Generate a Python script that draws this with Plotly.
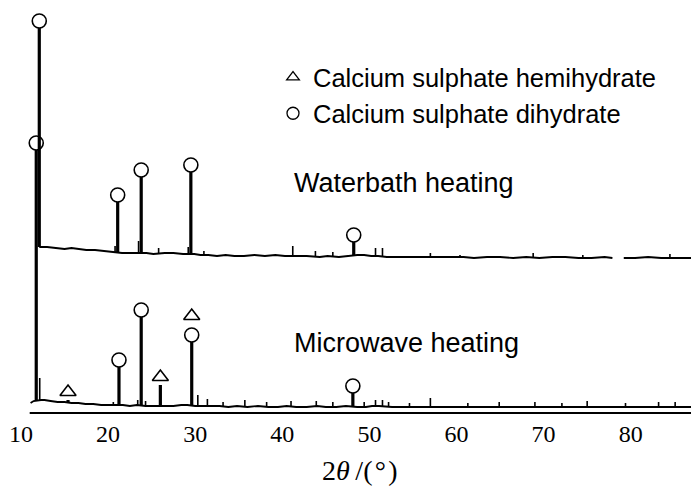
import numpy as np
import plotly.graph_objects as go

# ---------------- data (2theta in degrees, intensity in arbitrary units) ----------------
# Waterbath heating pattern (upper curve, vertically offset)
wb_base_x = [12.1, 13.0, 14.0, 15.0, 15.8, 16.5, 17.5, 18.5, 19.5, 20.3, 20.8, 21.6, 22.5, 23.3,
             24.4, 25.2, 26.5, 27.5, 28.6, 29.9, 30.6, 31.5, 32.5, 33.5, 34.5, 35.6, 36.8, 38.0,
             39.2, 40.3, 41.7, 42.8, 44.3, 45.2, 46.5, 47.4, 48.6, 49.4, 50.2, 51.0, 52.0, 53.0,
             54.5, 56.0, 57.5, 59.0, 60.8, 62.0, 63.5, 65.0, 66.5, 68.0, 69.5, 71.0, 72.5, 74.0,
             75.5, 77.0, 77.9, None, 79.2, 80.5, 82.0, 83.5, 85.3, 86.92]
wb_base_y = [165, 165, 164, 163, 164, 163, 162, 162, 161, 160, 160, 159, 159, 159,
             159, 158, 159, 159, 158, 158, 157, 157, 156, 157, 156, 156, 157, 156,
             157, 156, 156, 156, 155, 156, 155, 156, 157, 157, 156, 156, 155, 155,
             155, 155, 155, 155, 155, 154, 155, 155, 154, 155, 154, 155, 155, 154,
             154, 155, 154, None, 154, 154, 155, 154, 154, 154]
wb_peak_x = [12.1, 21.1, 23.8, 29.5, 48.2]
wb_peak_y = [384, 210, 235, 240, 170]
wb_minor_x = [20.8, 23.5, 25.8, 29.2, 31.0, 41.2, 43.8, 45.8, 50.7, 51.5, 57.0, 60.4, 68.8, 74.5, 84.5]
wb_minor_y = [166, 171, 164, 165, 161, 166, 161, 160, 164, 164, 159, 157, 159, 157, 158]

# Microwave heating pattern (lower curve)
mw_base_x = [11.1, 11.45, 12.3, 12.7, 13.4, 14.2, 15.0, 15.8, 16.6, 17.4, 18.3, 19.2, 20.0,
             20.8, 21.7, 22.5, 23.3, 24.3, 25.2, 26.6, 27.5, 28.4, 29.1, 30.0, 30.8, 31.8,
             32.8, 33.8, 34.8, 36.0, 37.2, 38.4, 39.5, 40.5, 41.6, 42.8, 44.0, 45.0, 46.2,
             47.3, 48.6, 49.6, 50.3, 51.1, 52.6, 53.8, 55.0, 56.2, 57.6, 59.0, 60.5, 62.0,
             63.5, 65.5, 67.0, 68.5, 70.0, 71.5, 73.0, 74.4, 75.8, 77.2, 78.6, 80.0, 81.5,
             82.8, 84.0, 85.6, 86.92]
mw_base_y = [9, 11, 12, 12, 11, 10, 10, 9, 9, 8, 8, 7, 7,
             7, 7, 6, 7, 6, 6, 6, 6, 7, 7, 6, 6, 6,
             6, 5, 6, 5, 6, 5, 5, 6, 5, 5, 6, 5, 5,
             6, 5, 5, 6, 6, 5, 5, 5, 5, 5, 5, 5, 5,
             5, 5, 5, 5, 5, 5, 5, 5, 5, 5, 5, 5, 5,
             5, 5, 5, 5]
mw_peak_x = [11.75, 15.4, 21.25, 23.8, 26.0, 29.6, 48.1]
mw_peak_y = [262, 12, 45, 95, 27, 70, 19]
mw_minor_x = [12.15, 20.6, 23.4, 24.3, 30.3, 31.4, 33.2, 35.7, 38.2, 41.0, 43.9, 45.8, 49.4,
              50.7, 51.5, 52.2, 54.6, 57.0, 61.3, 64.9, 69.0, 72.1, 75.0, 79.4, 83.2, 85.1]
mw_minor_y = [34, 10, 12, 11, 17, 13, 10, 12, 10, 11, 11, 10, 10,
              12, 12, 10, 9, 14, 9, 10, 10, 9, 11, 9, 10, 10]

# phase identification marks
wb_dihydrate = [12.1, 21.1, 23.8, 29.5, 48.2]
mw_dihydrate = [11.75, 21.25, 23.8, 29.6, 48.1]
mw_hemihydrate = [15.4, 26.0, 29.6]

tick_vals = [10, 20, 30, 40, 50, 60, 70, 80]
tick_text = ["10", "20", "30", "40", "50", "60", "70", "80"]


# ---------------- helpers ----------------
def clean(xs, ys):
    px = [a for a in xs if a is not None]
    py = [b for b in ys if b is not None]
    return np.array(px, float), np.array(py, float)


def segments(pos, top, bx, by):
    sx, sy = [], []
    for p, t in zip(pos, top):
        foot = float(np.interp(p, bx, by))
        sx += [p, p, None]
        sy += [foot, t, None]
    return sx, sy


BLACK = "#000000"
fig = go.Figure()

for bx_raw, by_raw, px, py, mx, my, name in [
    (wb_base_x, wb_base_y, wb_peak_x, wb_peak_y, wb_minor_x, wb_minor_y, "Waterbath"),
    (mw_base_x, mw_base_y, mw_peak_x, mw_peak_y, mw_minor_x, mw_minor_y, "Microwave"),
]:
    bx, by = clean(bx_raw, by_raw)
    fig.add_trace(go.Scatter(x=bx_raw, y=by_raw, mode="lines", line=dict(color=BLACK, width=1.8),
                             showlegend=False, hoverinfo="skip", connectgaps=False))
    sx, sy = segments(mx, my, bx, by)
    fig.add_trace(go.Scatter(x=sx, y=sy, mode="lines", line=dict(color=BLACK, width=1.6),
                             showlegend=False, hoverinfo="skip"))
    sx, sy = segments(px, py, bx, by)
    fig.add_trace(go.Scatter(x=sx, y=sy, mode="lines", line=dict(color=BLACK, width=3.2),
                             showlegend=False, hoverinfo="skip"))

wb_top = dict(zip(wb_peak_x, wb_peak_y))
mw_top = dict(zip(mw_peak_x, mw_peak_y))

CIRC_OFF = 7
TRI_OFF = 8
circ_x = wb_dihydrate + mw_dihydrate
circ_y = [wb_top[p] + CIRC_OFF for p in wb_dihydrate] + [mw_top[p] + CIRC_OFF for p in mw_dihydrate]
tri_x = mw_hemihydrate
tri_y = [mw_top[p] + (26 if p in mw_dihydrate else TRI_OFF) for p in mw_hemihydrate]

fig.add_trace(go.Scatter(x=circ_x, y=circ_y, mode="markers", showlegend=False,
                         marker=dict(symbol="circle-open", size=14, color=BLACK, line=dict(width=1.6))))
fig.add_trace(go.Scatter(x=tri_x, y=tri_y, mode="markers", showlegend=False,
                         marker=dict(symbol="triangle-up-open", size=14, color=BLACK, line=dict(width=1.6))))

# legend entries
fig.add_trace(go.Scatter(x=[None], y=[None], mode="markers", name="Calcium sulphate hemihydrate",
                         marker=dict(symbol="triangle-up-open", size=11, color=BLACK, line=dict(width=1.3))))
fig.add_trace(go.Scatter(x=[None], y=[None], mode="markers", name="Calcium sulphate dihydrate",
                         marker=dict(symbol="circle-open", size=12, color=BLACK, line=dict(width=1.3))))

W, H = 691, 488
PLOT_H = 409
AX_PIX = 413
# x-axis baseline
fig.add_shape(type="line", xref="x", yref="paper", x0=11.0, x1=86.92,
              y0=(PLOT_H - AX_PIX) / PLOT_H, y1=(PLOT_H - AX_PIX) / PLOT_H,
              line=dict(color=BLACK, width=2))

fig.update_layout(
    width=W, height=H,
    margin=dict(l=0, r=0, t=0, b=H - PLOT_H, pad=0),
    paper_bgcolor="white", plot_bgcolor="white",
    showlegend=True,
    legend=dict(x=273 / W, y=(PLOT_H - 54) / PLOT_H, xanchor="left", yanchor="top",
                bgcolor="rgba(0,0,0,0)", itemwidth=30,
                font=dict(family="Liberation Sans, Arial, sans-serif", size=25.5, color=BLACK)),
    xaxis=dict(range=[7.59, 86.92], showgrid=False, zeroline=False, showline=False,
               tickmode="array", tickvals=tick_vals, ticktext=tick_text, ticks="",
               ticklabelstandoff=8,
               tickfont=dict(family="Liberation Serif, Times New Roman, serif", size=24, color=BLACK)),
    yaxis=dict(range=[3, 412], showgrid=False, zeroline=False, showline=False,
               showticklabels=False, ticks=""),
    annotations=[
        dict(text="Waterbath heating", x=292 / W, y=(PLOT_H - 182.7) / PLOT_H, xref="paper", yref="paper",
             xanchor="left", yanchor="middle", showarrow=False,
             font=dict(family="Liberation Sans, Arial, sans-serif", size=27, color=BLACK)),
        dict(text="Microwave heating", x=292 / W, y=(PLOT_H - 343) / PLOT_H, xref="paper", yref="paper",
             xanchor="left", yanchor="middle", showarrow=False,
             font=dict(family="Liberation Sans, Arial, sans-serif", size=27, color=BLACK)),
        dict(text="2<i>θ</i>\u2009/(\u200a°\u200a)", x=360 / W, y=(PLOT_H - 471) / PLOT_H,
             xref="paper", yref="paper",
             xanchor="center", yanchor="middle", showarrow=False,
             font=dict(family="Liberation Serif, Times New Roman, serif", size=28, color=BLACK)),
    ],
)

fig.write_html("out.html", config={"displayModeBar": False},
               post_script="document.body.style.margin='0';")
